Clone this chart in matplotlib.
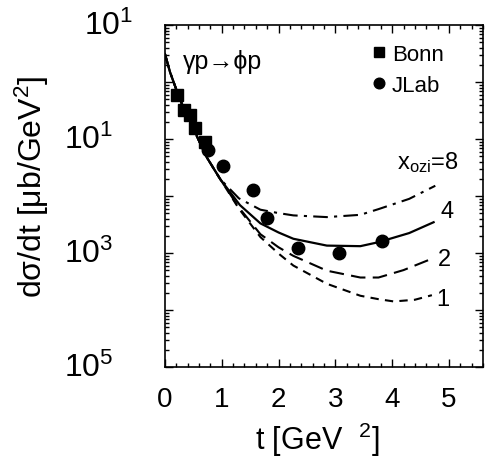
import numpy as np
import matplotlib
matplotlib.use("Agg")
import matplotlib.pyplot as plt
from matplotlib.ticker import LogLocator, MultipleLocator, NullFormatter
import matplotlib.transforms as mtransforms

plt.rcParams['font.family'] = ['Liberation Sans', 'DejaVu Sans']
plt.rcParams['mathtext.fontset'] = 'custom'
plt.rcParams['mathtext.rm'] = 'Liberation Sans'
plt.rcParams['mathtext.it'] = 'Liberation Sans'

# data
bonn_t = [0.22, 0.34, 0.44, 0.52, 0.71]
bonn_y = [0.59, 0.32, 0.26, 0.155, 0.087]
jlab_t = [0.76, 1.02, 1.55, 1.79, 2.35, 3.06, 3.82]
jlab_y = [0.065, 0.034, 0.0129, 0.0041, 0.0012, 0.0010, 0.00162]

# model curves, x_ozi = 8, 4, 2, 1 (log10 of dsigma/dt)
t_common = [0.0, 0.09, 0.26, 0.5, 0.735, 0.97]
log_common = [0.49, 0.17, -0.30, -0.82, -1.32, -1.70]
t_x8 = [1.3, 1.68, 2.0, 2.26, 2.85, 3.44, 3.76, 4.3, 4.76]
log_x8 = [-2.04, -2.24, -2.30, -2.34, -2.37, -2.33, -2.23, -2.05, -1.82]
t_x4 = [1.32, 1.68, 2.0, 2.26, 2.85, 3.44, 3.76, 4.3, 4.73]
log_x4 = [-2.16, -2.48, -2.64, -2.75, -2.87, -2.88, -2.81, -2.65, -2.46]
t_x2 = [1.3, 1.68, 2.0, 2.26, 2.85, 3.44, 3.76, 4.2, 4.70]
log_x2 = [-2.20, -2.67, -2.90, -3.05, -3.31, -3.43, -3.43, -3.30, -3.10]
t_x1 = [1.3, 1.68, 2.0, 2.26, 2.85, 3.44, 3.76, 4.03, 4.4, 4.70]
log_x1 = [-2.22, -2.72, -3.01, -3.22, -3.54, -3.75, -3.81, -3.85, -3.82, -3.74]

ytick_vals = [1e1, 1e-1, 1e-3, 1e-5]
ytick_text = [r'$\mathregular{10^{1}}$', r'$\mathregular{10^{1}}$',
              r'$\mathregular{10^{3}}$', r'$\mathregular{10^{5}}$']

fig = plt.figure(figsize=(4.87, 4.64), dpi=100)
ax = fig.add_axes([0.3388, 0.2069, 0.653, 0.737])


def curve(t_tail, log_tail):
    t = t_common + t_tail
    y = 10.0 ** np.array(log_common + log_tail)
    return t, y


t, y = curve(t_x8, log_x8)
ax.plot(t, y, color='k', lw=1.5, dashes=(7, 3, 1.5, 3))
t, y = curve(t_x4, log_x4)
ax.plot(t, y, color='k', lw=1.6)
t, y = curve(t_x2, log_x2)
ax.plot(t, y, color='k', lw=1.5, dashes=(7, 3.5))
t, y = curve(t_x1, log_x1)
ax.plot(t, y, color='k', lw=1.5, dashes=(4, 3))

ax.plot(bonn_t, bonn_y, 's', color='k', ms=8.5, label='Bonn')
ax.plot(jlab_t, jlab_y, 'o', color='k', ms=9, label='JLab')

ax.set_yscale('log')
ax.set_xlim(0, 5.6)
ax.set_ylim(1e-5, 1e1)

ax.xaxis.set_major_locator(MultipleLocator(1))
ax.xaxis.set_minor_locator(MultipleLocator(0.2))
ax.yaxis.set_major_locator(LogLocator(base=10, numticks=20))
ax.yaxis.set_minor_locator(LogLocator(base=10, subs=np.arange(2, 10), numticks=20))
ax.yaxis.set_minor_formatter(NullFormatter())
ax.set_yticklabels([])
ax.tick_params(which='both', direction='in', top=True, right=True, width=1)
ax.tick_params(which='major', length=6)
ax.tick_params(which='minor', length=3)
ax.tick_params(axis='x', labelsize=20, pad=14)
for s in ax.spines.values():
    s.set_linewidth(1.2)

# y tick labels drawn by hand (the top one sits further right, as in the original)
trans = mtransforms.blended_transform_factory(ax.transAxes, ax.transData)
for i, (v, s) in enumerate(zip(ytick_vals, ytick_text)):
    off = -32 if i == 0 else -52
    ax.annotate(s, xy=(0, v), xycoords=trans, xytext=(off * 0.72, 0),
                textcoords='offset points', ha='right', va='center', fontsize=23)

ax.set_xlabel(r't [GeV$\mathregular{\ \ ^{2}}$]', fontsize=22)
ax.xaxis.set_label_coords(0.48, -0.155)
ax.xaxis.label.set_va('top')
ax.set_ylabel(r'd$\mathregular{\sigma}$/dt [$\mathregular{\mu}$b/GeV$\mathregular{^{2}}$]',
              fontsize=23)
ax.yaxis.set_label_coords(-0.36, 0.53)

ax.text(0.057, 0.895, 'γp→ϕp', transform=ax.transAxes, fontsize=18, va='center')
ax.text(0.73, 0.60, r'$\mathregular{x_{ozi}}$=8', transform=ax.transAxes, fontsize=17, va='center')
ax.text(0.887, 0.456, '4', transform=ax.transAxes, fontsize=17, ha='center', va='center')
ax.text(0.880, 0.316, '2', transform=ax.transAxes, fontsize=17, ha='center', va='center')
ax.text(0.874, 0.199, '1', transform=ax.transAxes, fontsize=17, ha='center', va='center')

ax.legend(loc='upper left', bbox_to_anchor=(0.595, 0.99), frameon=False, fontsize=16,
          handlelength=0.8, handletextpad=0.2, labelspacing=0.45, borderpad=0.2,
          markerscale=0.85)

fig.savefig('out.png', dpi=100)
